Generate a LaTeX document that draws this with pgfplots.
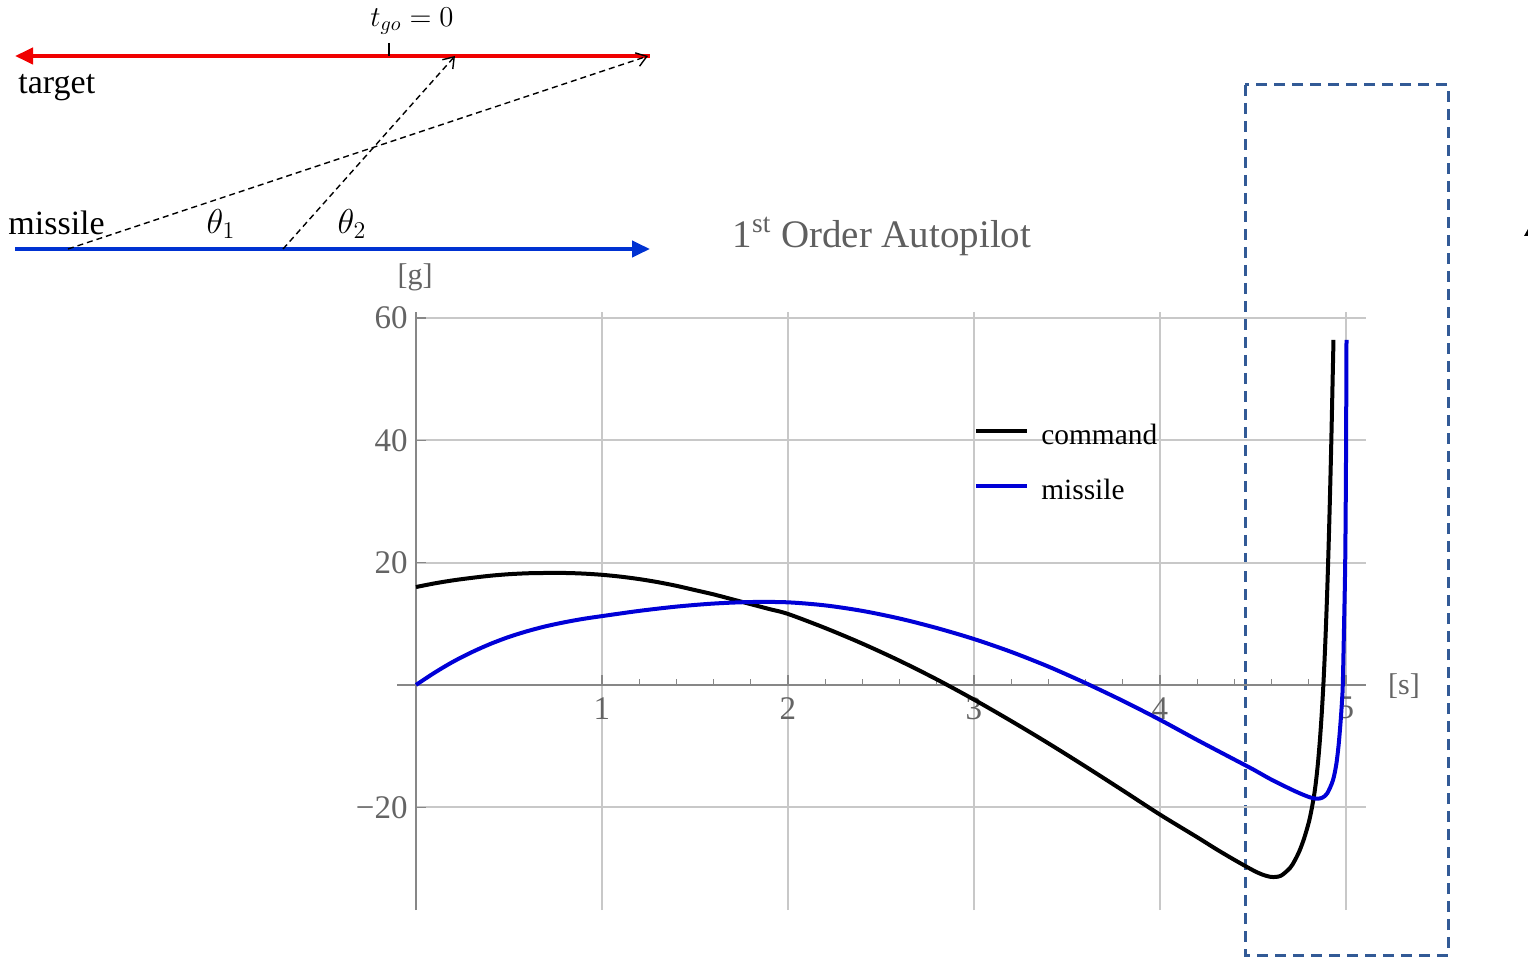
\documentclass[border=0pt]{standalone}
\usepackage{fontspec}
\setmainfont{Liberation Serif}
\usepackage{pgfplots}
\pgfplotsset{compat=1.18}
\usepackage{pgfplotstable}
\usetikzlibrary{arrows.meta}

\definecolor{tickgray}{RGB}{100,100,100}
\definecolor{titlegray}{RGB}{95,95,95}
\definecolor{gridgray}{RGB}{200,200,200}
\definecolor{axisgray}{RGB}{135,135,135}
\definecolor{missileblue}{RGB}{0,0,215}
\definecolor{arrowblue}{RGB}{0,50,210}
\definecolor{targetred}{RGB}{240,0,0}
\definecolor{boxblue}{RGB}{50,90,150}

% acceleration command [g] vs time [s]
\pgfplotstableread{
t a
0 16.0
0.1 16.6
0.2 17.1
0.3 17.5
0.4 17.85
0.5 18.1
0.6 18.25
0.7 18.3
0.8 18.3
0.9 18.2
1.0 18.0
1.1 17.7
1.2 17.3
1.3 16.8
1.4 16.2
1.5 15.5
1.6 14.8
1.7 14.0
1.8 13.2
1.9 12.4
2.0 11.6
2.2 9.3
2.4 6.75
2.6 3.95
2.8 0.9
3.0 -2.4
3.2 -5.9
3.4 -9.55
3.6 -13.35
3.8 -17.25
4.0 -21.2
4.2 -24.9
4.3 -26.8
4.4 -28.6
4.5 -30.3
4.55 -31.0
4.6 -31.4
4.65 -31.2
4.7 -29.9
4.725 -28.7
4.75 -27.15
4.775 -25.1
4.8 -22.5
4.815 -20.4
4.83 -17.8
4.84 -15.5
4.85 -12.6
4.86 -9.0
4.87 -4.6
4.88 0.85
4.89 7.65
4.9 16.0
4.91 26.1
4.92 38.1
4.928 49.3
4.933 56.4
}\command

% missile acceleration
\pgfplotstableread{
t a
0 0
0.1 2.0
0.2 3.8
0.3 5.35
0.4 6.7
0.5 7.85
0.6 8.8
0.7 9.6
0.8 10.25
0.9 10.8
1.0 11.25
1.2 12.1
1.4 12.8
1.6 13.3
1.8 13.55
2.0 13.5
2.2 13.0
2.4 12.1
2.6 10.85
2.8 9.3
3.0 7.5
3.2 5.4
3.4 3.0
3.6 0.3
3.8 -2.6
4.0 -5.7
4.2 -9.0
4.4 -12.2
4.5 -13.8
4.6 -15.5
4.7 -17.0
4.75 -17.7
4.79 -18.2
4.82 -18.5
4.85 -18.6
4.875 -18.4
4.9 -17.7
4.93 -15.6
4.948 -13.0
4.96 -10.0
4.97 -6.5
4.978 -3.0
4.983 0
4.99 10
4.996 20
5.0 35
5.003 56.4
}\missile

\begin{document}
\begin{tikzpicture}
\path[use as bounding box] (0pt,0pt) rectangle (764pt,-478.5pt);

% engagement sketch, pixel coordinates (y down)
\begin{scope}[x=0.5pt,y=-0.5pt]
\draw[targetred, line width=2pt, {Triangle[length=9pt,width=8pt]}-] (15,56) -- (650,56);
\draw[arrowblue, line width=2pt, -{Triangle[length=9pt,width=8pt]}] (15,249) -- (650,249);
\draw[line width=0.6pt] (389,43) -- (389,56);
\draw[line width=0.7pt, dash pattern=on 3pt off 2pt, -{Straight Barb[length=5pt,width=7pt]}] (68,249) -- (648,56);
\draw[line width=0.7pt, dash pattern=on 3pt off 2pt, -{Straight Barb[length=5pt,width=7pt]}] (283,249) -- (455,56);
\node[anchor=base west, inner sep=0pt, font=\fontsize{17}{20}\selectfont] at (18,94) {target};
\node[anchor=base west, inner sep=0pt, font=\fontsize{17}{20}\selectfont] at (8,235) {missile};
\node[font=\fontsize{17}{20}\selectfont] at (221,224) {$\theta_1$};
\node[font=\fontsize{17}{20}\selectfont] at (352,224) {$\theta_2$};
\node[font=\fontsize{14}{16}\selectfont] at (412,21) {$t_{go}=0$};
% titles and axis units
\node[titlegray, font=\fontsize{19.5}{22}\selectfont] at (882,236) {1\textsuperscript{st} Order Autopilot};
\node[tickgray, font=\fontsize{15}{18}\selectfont] at (415,277) {[g]};
\node[tickgray, font=\fontsize{15}{18}\selectfont] at (1404,686) {[s]};
% highlight box
\draw[boxblue, line width=1.5pt, dash pattern=on 5.5pt off 3.5pt] (1245,85) rectangle (1448,955);
\fill (1524,236) -- (1528,236) -- (1528,229) -- cycle;
\end{scope}

\begin{axis}[
    at={(208pt,-455pt)}, anchor=south west,
    scale only axis,
    width=475.2pt, height=299.1pt,
    xmin=0, xmax=5.11,
    ymin=-36.8, ymax=61,
    axis lines=middle,
    axis line style={axisgray, line width=0.6pt, -},
    xtick={1,2,3,4,5}, xticklabels={1,2,3,4,5},
    ytick={-20,20,40,60}, yticklabels={−20,20,40,60},
    minor x tick num=4, minor y tick num=3,
    tick style={axisgray, line width=0.6pt},
    major tick length=5pt, minor tick length=3pt,
    tick align=inside,
    grid=major,
    major grid style={gridgray, line width=1pt},
    ticklabel style={tickgray, font=\fontsize{16.5}{19}\selectfont},
    xticklabel style={anchor=north, inner sep=0pt, yshift=-6pt},
    yticklabel style={anchor=east, inner sep=0pt, xshift=-4pt},
    clip=false,
    legend style={draw=none, fill=none, at={(0.587,0.7436)}, anchor=west,
        font=\fontsize{14.7}{17}\selectfont, inner sep=0pt, row sep=14.5pt,
        nodes={inner sep=0pt, text height=10pt, text depth=3pt}},
    legend cell align=left,
    legend image code/.code={\draw[#1, line width=2pt] (0pt,3.5pt) -- (25.5pt,3.5pt);},
    /tikz/every odd column/.append style={column sep=6pt},
]
\draw[axisgray, line width=0.6pt] (axis cs:-0.1,0) -- (axis cs:0,0);
\addplot[black, line width=2pt, smooth, tension=0.5] table[x=t, y=a] {\command};
\addlegendentry{command}
\addplot[missileblue, line width=2pt, smooth, tension=0.5] table[x=t, y=a] {\missile};
\addlegendentry{missile}
\end{axis}
\end{tikzpicture}
\end{document}
